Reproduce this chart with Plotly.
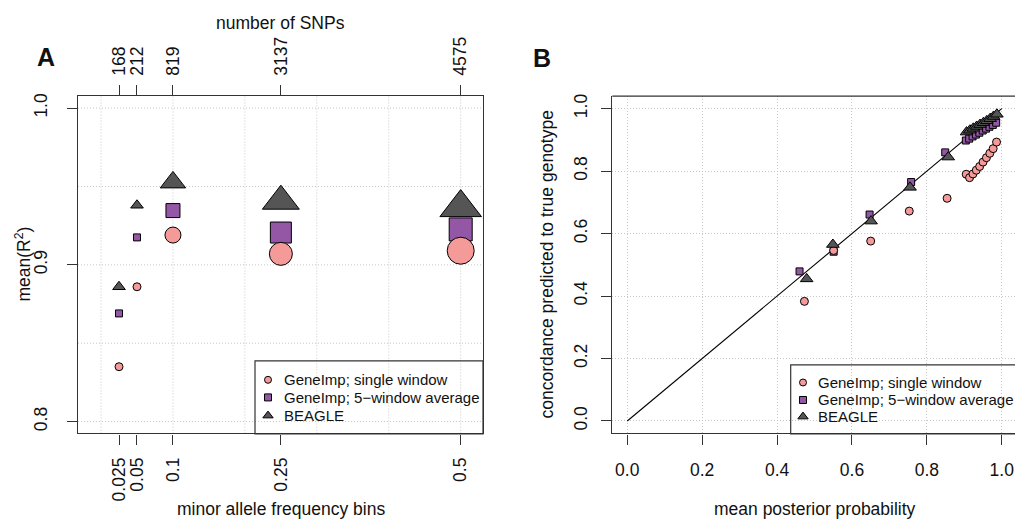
import plotly.graph_objects as go

# ---------------- data ----------------
maf_bins = [0.025, 0.05, 0.1, 0.25, 0.5]
maf_labels = ["0.025", "0.05", "0.1", "0.25", "0.5"]
n_snps = [168, 212, 819, 3137, 4575]
r2_single = [0.835, 0.886, 0.919, 0.907, 0.909]
r2_5win = [0.869, 0.9175, 0.9346, 0.9206, 0.9226]
r2_beagle = [0.886, 0.938, 0.9526, 0.9406, 0.9365]

pp_single = [0.473, 0.551, 0.650, 0.753, 0.854, 0.905, 0.914, 0.923, 0.932, 0.941,
             0.950, 0.959, 0.968, 0.977, 0.986]
conc_single = [0.383, 0.546, 0.576, 0.672, 0.713, 0.790, 0.779, 0.791, 0.803, 0.815,
               0.829, 0.843, 0.857, 0.872, 0.893]
pp_5win = [0.460, 0.551, 0.647, 0.758, 0.849, 0.904, 0.913, 0.922, 0.931, 0.940,
           0.949, 0.958, 0.967, 0.976, 0.985]
conc_5win = [0.479, 0.542, 0.661, 0.765, 0.860, 0.898, 0.904, 0.911, 0.917, 0.923,
             0.930, 0.936, 0.942, 0.948, 0.955]
pp_beagle = [0.479, 0.549, 0.651, 0.755, 0.857, 0.906, 0.915, 0.924, 0.933, 0.942,
             0.951, 0.960, 0.969, 0.978, 0.987]
conc_beagle = [0.455, 0.565, 0.640, 0.748, 0.845, 0.925, 0.931, 0.937, 0.943, 0.949,
               0.955, 0.961, 0.968, 0.975, 0.982]
diag = [0.0, 1.0]

series_names = ["GeneImp; single window", "GeneImp; 5\u2212window average", "BEAGLE"]

a_ygrid = [0.8, 0.85, 0.9, 0.95, 1.0]
a_xgrid = [0.0, 0.1, 0.2, 0.3, 0.4, 0.5]
a_yticks = [0.8, 0.9, 1.0]
b_ticks = [0.0, 0.2, 0.4, 0.6, 0.8, 1.0]

# ---------------- styles ----------------
C_CIRC = "#F49A99"
C_SQ = "#9457A6"
C_TRI = "#555555"
AX = "#333333"
GRID = "#C8C8C8"
FONT = "Liberation Sans, Arial, Helvetica, sans-serif"
FS = 17.5

a_circ_sizes = [8, 8, 16, 23, 27]
a_sq_sizes = [7, 7, 14, 21, 23]
a_tri_sizes = [11, 11, 22, 32, 36]

W, H = 1015, 519


def px(x):
    return x / W


def py(y):
    return 1 - y / H


A_dom_x = [px(78), px(483)]
B_dom_x = [px(612.3), 1.0]
dom_y = [py(433), py(93.7)]

fig = go.Figure()
edge = dict(color="black", width=1)

# ---- panel A ----
fig.add_trace(go.Scatter(x=maf_bins, y=r2_5win, mode="markers", xaxis="x", yaxis="y",
                         marker=dict(symbol="square", size=a_sq_sizes, color=C_SQ, line=edge,
                                     opacity=1),
                         showlegend=False, hoverinfo="skip"))
fig.add_trace(go.Scatter(x=maf_bins, y=r2_single, mode="markers", xaxis="x", yaxis="y",
                         marker=dict(symbol="circle", size=a_circ_sizes, color=C_CIRC, line=edge,
                                     opacity=1),
                         showlegend=False, hoverinfo="skip"))
fig.add_trace(go.Scatter(x=maf_bins, y=r2_beagle, mode="markers", xaxis="x", yaxis="y",
                         marker=dict(symbol="triangle-up", size=a_tri_sizes, color=C_TRI,
                                     line=edge, opacity=1),
                         showlegend=False, hoverinfo="skip"))
# invisible trace to activate top axis (number of SNPs)
fig.add_trace(go.Scatter(x=maf_bins, y=r2_single, mode="markers", xaxis="x3", yaxis="y",
                         marker=dict(opacity=0, size=1), showlegend=False, hoverinfo="skip"))

# ---- panel B ----
fig.add_trace(go.Scatter(x=diag, y=diag, mode="lines", xaxis="x2", yaxis="y2",
                         line=dict(color="black", width=1.1), showlegend=False, hoverinfo="skip"))
fig.add_trace(go.Scatter(x=pp_5win, y=conc_5win, mode="markers", xaxis="x2", yaxis="y2",
                         marker=dict(symbol="square", size=7, color=C_SQ, line=edge, opacity=1),
                         showlegend=False, hoverinfo="skip"))
fig.add_trace(go.Scatter(x=pp_single, y=conc_single, mode="markers", xaxis="x2", yaxis="y2",
                         marker=dict(symbol="circle", size=8, color=C_CIRC, line=edge, opacity=1),
                         showlegend=False, hoverinfo="skip"))
fig.add_trace(go.Scatter(x=pp_beagle, y=conc_beagle, mode="markers", xaxis="x2", yaxis="y2",
                         marker=dict(symbol="triangle-up", size=11, color=C_TRI, line=edge,
                                     opacity=1),
                         showlegend=False, hoverinfo="skip"))

# ---- legends (manual, pixel overlay axis) ----
leg_syms = ["circle", "square", "triangle-up"]
leg_cols = [C_CIRC, C_SQ, C_TRI]
leg_sizes = [7, 7, 9]
legends = [
    dict(box=(255, 360, 483, 433.5), rows=[379, 396.7, 415], sx=268, tx=281.5),
    dict(box=(790.7, 364, 1030, 433.5), rows=[381.7, 399.3, 416], sx=803, tx=815.5),
]
for lg in legends:
    for i in range(3):
        fig.add_trace(go.Scatter(x=[lg["sx"]], y=[lg["rows"][i]], mode="markers",
                                 xaxis="x4", yaxis="y4",
                                 marker=dict(symbol=leg_syms[i], size=leg_sizes[i],
                                             color=leg_cols[i], line=edge, opacity=1),
                                 showlegend=False, hoverinfo="skip"))

shapes = []
annotations = []
for lg in legends:
    x0, y0, x1, y1 = lg["box"]
    shapes.append(dict(type="rect", xref="paper", yref="paper", x0=px(x0), x1=px(x1),
                       y0=py(y1), y1=py(y0), line=dict(color=AX, width=1.2),
                       fillcolor="rgba(0,0,0,0)", layer="above"))
    for i in range(3):
        annotations.append(dict(text=series_names[i], xref="paper", yref="paper",
                                x=px(lg["tx"]), y=py(lg["rows"][i]), xanchor="left",
                                yanchor="middle", showarrow=False,
                                font=dict(family=FONT, size=15, color="#111")))

# grid for panel A
for v in a_xgrid:
    shapes.append(dict(type="line", xref="x", yref="y domain", x0=v, x1=v, y0=0, y1=1,
                       line=dict(color=GRID, width=1, dash="1px,2px"), layer="below"))
for v in a_ygrid:
    shapes.append(dict(type="line", xref="x domain", yref="y", x0=0, x1=1, y0=v, y1=v,
                       line=dict(color=GRID, width=1, dash="1px,2px"), layer="below"))

# top line of panel B box (right side is beyond the picture)
shapes.append(dict(type="line", xref="paper", yref="paper", x0=B_dom_x[0], x1=1.02,
                   y0=dom_y[1], y1=dom_y[1], line=dict(color=AX, width=1.2)))


def ann(text, x, y, size=FS, angle=0, bold=False):
    annotations.append(dict(text=("<b>%s</b>" % text) if bold else text, xref="paper",
                            yref="paper", x=px(x), y=py(y), xanchor="center",
                            yanchor="middle", showarrow=False, textangle=angle,
                            font=dict(family=FONT, size=size, color="#111")))


ann("number of SNPs", 280.5, 20)
ann("minor allele frequency bins", 280.5, 509)
ann("mean posterior probability", 814.5, 509)
ann("mean(R<sup>2</sup>)", 23, 263, angle=-90)
ann("concordance predicted to true genotype", 547, 263, angle=-90)
ann("A", 46, 54, size=25, bold=True)
ann("B", 542, 55, size=25, bold=True)

axcommon = dict(ticks="outside", ticklen=10, tickwidth=1.2, tickcolor=AX,
                linecolor=AX, linewidth=1.2, zeroline=False,
                tickfont=dict(family=FONT, size=FS, color="#111"))

fig.update_layout(
    width=W, height=H, margin=dict(l=0, r=0, t=0, b=0),
    paper_bgcolor="white", plot_bgcolor="rgba(0,0,0,0)",
    showlegend=False,
    xaxis=dict(domain=A_dom_x, range=[-0.032, 0.531], anchor="y", tickmode="array",
               tickvals=maf_bins, ticktext=maf_labels, tickangle=-90, mirror=True,
               showline=True, showgrid=False, ticklabelstandoff=6, **axcommon),
    yaxis=dict(domain=dom_y, range=[0.7924, 1.0076], anchor="x", tickmode="array",
               tickvals=a_yticks, ticktext=["0.8", "0.9", "1.0"], tickangle=-90,
               mirror=True, showline=True, showgrid=False, ticklabelstandoff=13, **axcommon),
    xaxis3=dict(overlaying="x", side="top", range=[-0.032, 0.531], anchor="y",
                tickmode="array", tickvals=maf_bins, ticktext=[str(n) for n in n_snps],
                tickangle=-90, showgrid=False, showline=False, ticklabelstandoff=6,
                **axcommon),
    xaxis2=dict(domain=B_dom_x, range=[-0.04, 1.0353], anchor="y2", tickmode="array",
                tickvals=b_ticks, ticktext=["0.0", "0.2", "0.4", "0.6", "0.8", "1.0"],
                mirror=False, showline=True, showgrid=True, gridcolor=GRID,
                griddash="1px,2px", gridwidth=1, ticklabelstandoff=10, **axcommon),
    yaxis2=dict(domain=dom_y, range=[-0.04, 1.04], anchor="x2", tickmode="array",
                tickvals=b_ticks, ticktext=["0.0", "0.2", "0.4", "0.6", "0.8", "1.0"],
                tickangle=-90, mirror=False, showline=True, showgrid=True, gridcolor=GRID,
                griddash="1px,2px", gridwidth=1, ticklabelstandoff=7, **axcommon),
    xaxis4=dict(domain=[0, 1], range=[0, W], anchor="y4", visible=False, fixedrange=True),
    yaxis4=dict(domain=[0, 1], range=[H, 0], anchor="x4", visible=False, fixedrange=True),
    shapes=shapes, annotations=annotations,
)

fig.write_html("out.html", config={"displayModeBar": False},
               post_script="document.body.style.margin='0';"
                           "document.body.style.overflow='hidden';")
